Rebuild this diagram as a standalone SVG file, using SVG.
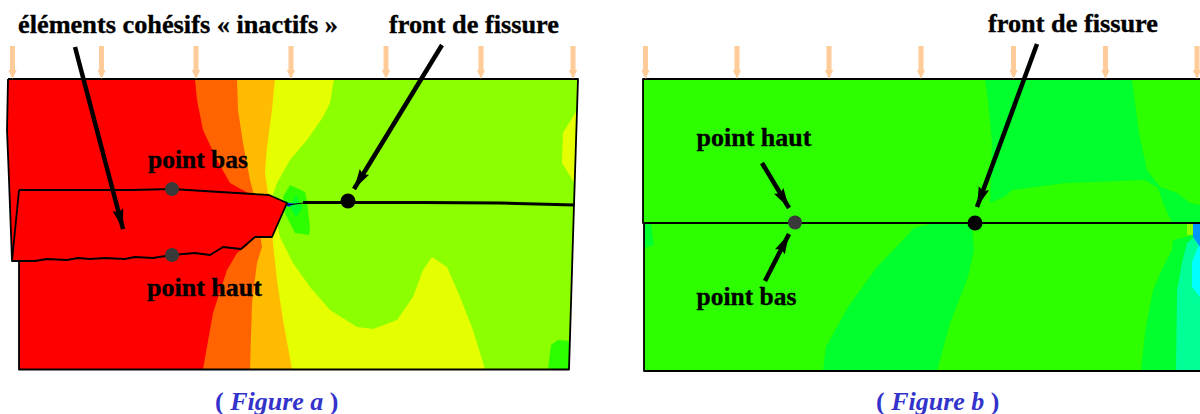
<svg xmlns="http://www.w3.org/2000/svg" width="1200" height="414" viewBox="0 0 1200 414">
<defs>
<path id="load" d="M-2.500 -33V-9H-4.200L0 0L4.200 -9H2.500V-33Z" fill="#ffcc99"/>
<marker id="ah" markerUnits="userSpaceOnUse" markerWidth="22" markerHeight="14" refX="20" refY="7" orient="auto"><path d="M0 1.500L20 7L0 12.500L3 7Z" fill="#000"/></marker>
</defs>
<style>
.t{font-family:"Liberation Serif","Times New Roman",serif;font-weight:bold;font-size:26px;fill:#000;stroke:#000;stroke-width:.35}
.c{font-family:"Liberation Serif","Times New Roman",serif;font-weight:bold;font-size:26px;fill:#3333cc}
.c tspan{font-style:italic}
.ol{fill:none;stroke:#000;stroke-width:1.800;stroke-linejoin:round}
.ar{fill:none;stroke:#000;stroke-width:4.500;marker-end:url(#ah)}
.r{fill:#ff0000}.o{fill:#ff6400}.a{fill:#ffbb00}.y{fill:#e6ff00}.l{fill:#8cff00}.g{fill:#2dff00}.h{fill:#00ff2d}
</style>
<rect width="1200" height="414" fill="#fff"/>
<g id="figure-a-field">
<path class="l" d="M8 79H578L574 205L569 369H19V261H12L7 130Z"/>
<path class="y" d="M275 79H334L330 103L323 117L307 140L290 160L277 183L272 197L280 237L293 263L310 287L330 310L357 327L373 329L397 320L413 297L423 270L432 257L447 267L460 297L473 330L485 369H19V79Z"/>
<path class="a" d="M237 79H275L272 110L267 147L265 173L268 193L273 243L277 280L283 320L292 369H19V79Z"/>
<path class="o" d="M19 79H237L238 110L243 143L250 180L254 195L262 247L257 263L252 303L250 369H19Z"/>
<path class="r" d="M8 79H195L197 100L203 130L217 160L230 183L248 193L248 245L237 253L227 270L213 313L203 369H19V261H12L7 130Z"/>
<path class="y" d="M577 110L563 133L562 163L575 184Z"/>
<path class="g" d="M548 369L551 345L558 340L570 341L569 369Z"/>
<path class="g" d="M283 197L290 185L305 192L307 202L310 227L309 235L295 233L285 213Z"/>
<path class="h" d="M296 195L302 208L296 217L290 207Z"/>
<path class="r" d="M19 190L133 190L172 189L220 192L253 194L269 195L287 203L272 237L255 237L241 249L223 247L210 255L195 253L172 255L153 258L135 257L125 259L105 258L90 259L78 258L67 260L47 259L35 261L12 261Z"/>
<path fill="#0040ff" d="M285 202L295 204L288 207Z"/>
</g>
<g id="figure-a-outline">
<path class="ol" d="M8 79H578L574 205L569 369.500H19V261"/>
<path class="ol" d="M8 79L7 130L9 180L12 261L19 190"/>
<path class="ol" d="M19 190L133 190L172 189L220 192L253 194L269 195L287 203L272 237L255 237L241 249L223 247L210 255L195 253L172 255L153 258L135 257L125 259L105 258L90 259L78 258L67 260L47 259L35 261L12 261"/>
<path fill="none" stroke="#000" stroke-width="3" d="M303 202.500H420L500 203L574 205"/>
<path fill="none" stroke="#000" stroke-width="1" d="M287 205L303 203"/>
</g>
<g id="figure-b-field">
<path class="g" d="M643 79H1200V371H644V223H643Z"/>
<path class="h" d="M985 79H1132L1139 133L1147 170L1160 187L1177 193L1190 203L1200 205V223H1172L1163 203L1158 188L1145 180L1066 183L1012 190L1004 197L990 203L992 143L988 100Z"/>
<path class="h" d="M823 371L826 347L848 307L877 267L903 240L914 228L939 222L972 225L974 250L968 277L950 323L937 371Z"/>
<path class="h" d="M1141 371L1145 333L1153 290L1163 267L1172 250L1173 240L1182 238L1192 235H1200V371Z"/>
<path fill="#00ff96" d="M1176 371L1177 290L1182 263L1187 243L1193 238H1200V371Z"/>
<path fill="#00ffff" d="M1199 245L1192 262L1192 287L1200 297V245Z"/>
<path fill="#0096ff" d="M1193 224H1200V247L1193 237Z"/>
<path class="l" d="M1187 224H1193V235H1187Z"/>
<path class="h" d="M645 224H651L654 245L645 248Z"/>
</g>
<g id="figure-b-outline">
<path class="ol" d="M1200 79H643V223H1200"/>
<path class="ol" d="M644 223V371H1200"/>
</g>
<g id="loads">
<use href="#load" x="12.500" y="79"/><use href="#load" x="101.500" y="79"/><use href="#load" x="196" y="79"/><use href="#load" x="291" y="79"/><use href="#load" x="386" y="79"/><use href="#load" x="481" y="79"/><use href="#load" x="573" y="79"/>
<use href="#load" x="645.500" y="79"/><use href="#load" x="737" y="79"/><use href="#load" x="829" y="79"/><use href="#load" x="921" y="79"/><use href="#load" x="1013.500" y="79"/><use href="#load" x="1105.500" y="79"/><use href="#load" x="1197" y="79"/>
</g>
<g id="connectors">
<path class="ar" d="M75 47L123 229"/>
<path class="ar" d="M442 45L354 189"/>
<path class="ar" d="M762 163L789 208"/>
<path class="ar" d="M765 281L789 234"/>
<path class="ar" d="M1037 44L977 207"/>
</g>
<g id="point-bas-a"><circle cx="172" cy="189" r="7" fill="#3a3a3a"/></g>
<g id="point-haut-a"><circle cx="172" cy="255" r="7" fill="#3a3a3a"/></g>
<g id="front-a"><circle cx="348" cy="201" r="7.500" fill="#000"/></g>
<g id="point-b"><circle cx="795" cy="222.500" r="7" fill="#3a3a3a"/></g>
<g id="front-b"><circle cx="975" cy="223" r="7.500" fill="#000"/></g>
<g id="labels">
<text class="t" x="18" y="33" textLength="320" lengthAdjust="spacingAndGlyphs">éléments cohésifs « inactifs »</text>
<text class="t" x="389" y="33" textLength="170" lengthAdjust="spacingAndGlyphs">front de fissure</text>
<text class="t" x="148" y="168" textLength="100" lengthAdjust="spacingAndGlyphs">point bas</text>
<text class="t" x="147" y="296" textLength="115" lengthAdjust="spacingAndGlyphs">point haut</text>
<text class="t" x="988" y="32" textLength="170" lengthAdjust="spacingAndGlyphs">front de fissure</text>
<text class="t" x="696.500" y="146" textLength="115" lengthAdjust="spacingAndGlyphs">point haut</text>
<text class="t" x="696.500" y="305" textLength="100" lengthAdjust="spacingAndGlyphs">point bas</text>
<text class="c" x="215" y="410">( <tspan>Figure a</tspan> )</text>
<text class="c" x="876" y="410">( <tspan>Figure b</tspan> )</text>
</g>
</svg>
